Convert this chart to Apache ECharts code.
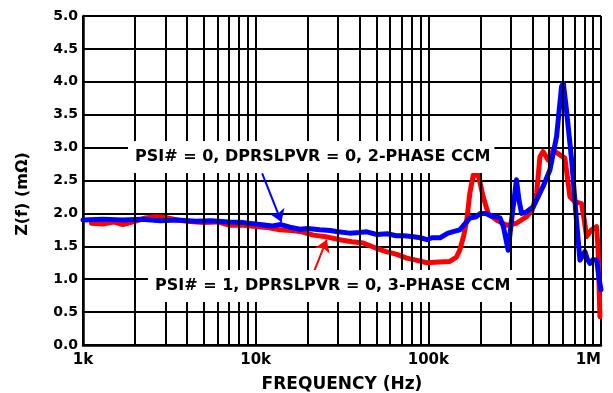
<!DOCTYPE html>
<html>
<head>
<meta charset="utf-8">
<script src="https://cdn.jsdelivr.net/npm/echarts@6/dist/echarts.min.js"></script>
<style>html,body{margin:0;padding:0;background:#fff}#c{width:613px;height:393px}</style>
</head>
<body>
<div id="c"></div>
<script>
// ---- data ----
const xTickLabels = ['1k', '10k', '100k', '1M'];
const yTicks = [0, 0.5, 1, 1.5, 2, 2.5, 3, 3.5, 4, 4.5, 5];

// PSI# = 0, DPRSLPVR = 0, 2-PHASE CCM (blue)
const blueFreq = [1000,1300,1700,2200,2800,3500,4500,5500,7000,8500,10600,12500,14000,15800,18000,20000,23500,27000,30000,35000,40000,44000,50000,58000,65000,72000,80000,90000,98000,105000,117000,130000,152000,174000,190000,200000,215000,230000,245000,260000,272000,290000,305000,324000,335000,347000,370000,405000,462000,506000,553000,591000,605000,631000,676000,721000,755000,780000,807000,835000,863000,900000,944000,975000,1000000];
const blueZ = [1.90,1.91,1.90,1.91,1.89,1.90,1.88,1.89,1.87,1.86,1.83,1.81,1.83,1.79,1.76,1.77,1.75,1.74,1.72,1.70,1.71,1.72,1.68,1.69,1.66,1.66,1.65,1.63,1.60,1.63,1.63,1.70,1.75,1.93,1.95,2.00,2.00,1.96,1.95,1.93,1.80,1.44,1.95,2.51,2.20,2.00,2.02,2.10,2.41,2.66,3.17,3.93,3.98,3.57,2.81,1.90,1.29,1.35,1.42,1.30,1.24,1.30,1.29,1.00,0.84];

// PSI# = 1, DPRSLPVR = 0, 3-PHASE CCM (red)
const redFreq = [1120,1300,1500,1700,2000,2300,2600,3000,3500,4000,5000,6000,7100,8500,10000,12000,13800,16000,18500,21600,25000,30700,36000,42000,50000,57000,65000,75000,85000,98000,115000,133000,145000,152000,160000,167000,174000,182000,195000,208000,222000,248000,284000,324000,371000,400000,424000,443000,462000,494000,528000,578000,618000,661000,706000,771000,800000,825000,881000,942000,960000,986000];
const redZ = [1.85,1.84,1.87,1.83,1.88,1.93,1.95,1.94,1.90,1.88,1.86,1.87,1.82,1.82,1.80,1.78,1.75,1.74,1.72,1.67,1.65,1.60,1.57,1.55,1.47,1.42,1.38,1.32,1.29,1.25,1.26,1.27,1.33,1.44,1.65,1.90,2.31,2.58,2.58,2.25,2.00,1.90,1.82,1.85,1.95,2.05,2.31,2.86,2.94,2.81,2.96,2.89,2.84,2.25,2.18,2.15,1.90,1.65,1.75,1.80,1.50,0.43];

// annotation texts and arrow end points (data coordinates)
const label2Phase = 'PSI# = 0, DPRSLPVR = 0, 2-PHASE CCM';
const label3Phase = 'PSI# = 1, DPRSLPVR = 0, 3-PHASE CCM';
const blueArrow = [[10900, 2.61], [14100, 1.87]];
const redArrow = [[21800, 1.12], [25800, 1.60]];

// ---- build ----
const zip = (a, b) => a.map((v, i) => [v, b[i]]);
const minorLines = [];
[1e3, 1e4, 1e5].forEach(d => { for (let m = 2; m <= 9; m++) minorLines.push({ xAxis: d * m }); });

const FONT = '"DejaVu Sans", "Liberation Sans", Arial, sans-serif';
const arrowMark = (color, pts) => ({
  silent: true, symbol: ['none', 'arrow'], symbolSize: 12, animation: false, z: 10,
  label: { show: false }, emphasis: { disabled: true },
  lineStyle: { color: color, width: 2, type: 'solid' },
  itemStyle: { color: color },
  data: [[{ coord: pts[0] }, { coord: pts[1] }]]
});

const chart = echarts.init(document.getElementById('c'), null, { renderer: 'canvas' });
chart.setOption({
  animation: false,
  backgroundColor: '#fff',
  grid: { left: 83, right: 12, top: 16, bottom: 48, containLabel: false, outerBoundsMode: 'none' },
  xAxis: {
    type: 'log', logBase: 10, min: 1000, max: 1000000,
    name: 'FREQUENCY (Hz)', nameLocation: 'middle', nameGap: 31,
    nameTextStyle: { fontFamily: FONT, fontWeight: 'bold', fontSize: 17, color: '#000' },
    axisLine: { show: true, lineStyle: { color: '#000', width: 2.5 } },
    axisTick: { show: false },
    minorTick: { show: false },
    splitLine: { show: true, lineStyle: { color: '#000', width: 2 } },
    axisLabel: {
      margin: 8, fontFamily: FONT, fontWeight: 'bold', fontSize: 15, color: '#000',
      alignMaxLabel: 'right',
      formatter: v => xTickLabels[Math.round(Math.log10(v)) - 3] || ''
    }
  },
  yAxis: {
    type: 'value', min: 0, max: 5, interval: 0.5,
    axisLine: { show: true, lineStyle: { color: '#000', width: 2.5 } },
    axisTick: { show: false },
    splitLine: { show: true, lineStyle: { color: '#000', width: 2 } },
    axisLabel: {
      margin: 5, fontFamily: FONT, fontWeight: 'bold', fontSize: 14, color: '#000',
      formatter: v => { const t = yTicks.find(y => Math.abs(y - v) < 1e-6); return t === undefined ? '' : t.toFixed(1); }
    }
  },
  series: [
    {
      type: 'line', data: [], z: 1, silent: true,
      markLine: {
        silent: true, symbol: ['none', 'none'], animation: false,
        label: { show: false },
        lineStyle: { color: '#000', width: 2, type: 'solid' },
        emphasis: { disabled: true },
        data: minorLines
      }
    },
    {
      name: '3-phase', type: 'line', data: zip(redFreq, redZ), z: 3, silent: true,
      symbol: 'none', lineStyle: { color: '#ff0000', width: 5, join: 'round', cap: 'round' },
      markLine: arrowMark('#ff0000', redArrow)
    },
    {
      name: '2-phase', type: 'line', data: zip(blueFreq, blueZ), z: 4, silent: true,
      symbol: 'none', lineStyle: { color: '#0000ff', width: 5, join: 'round', cap: 'round' },
      markLine: arrowMark('#0000ff', blueArrow)
    }
  ],
  graphic: [
    {
      type: 'text', x: 128, y: 157, z: 100, silent: true,
      style: { text: label2Phase, font: 'bold 16px ' + FONT, fill: '#000', backgroundColor: '#fff',
        padding: [8, 4, 8, 7], lineHeight: 16, align: 'left', verticalAlign: 'middle' }
    },
    {
      type: 'text', x: 148, y: 286, z: 100, silent: true,
      style: { text: label3Phase, font: 'bold 16px ' + FONT, fill: '#000', backgroundColor: '#fff',
        padding: [8, 6, 8, 7], lineHeight: 16, align: 'left', verticalAlign: 'middle' }
    },
    {
      type: 'text', x: 23, y: 194, rotation: Math.PI / 2, z: 100, silent: true,
      style: { text: 'Z(f) (mΩ)', font: 'bold 16px ' + FONT, fill: '#000', align: 'center', verticalAlign: 'middle' }
    }
  ]
});
</script>
</body>
</html>
